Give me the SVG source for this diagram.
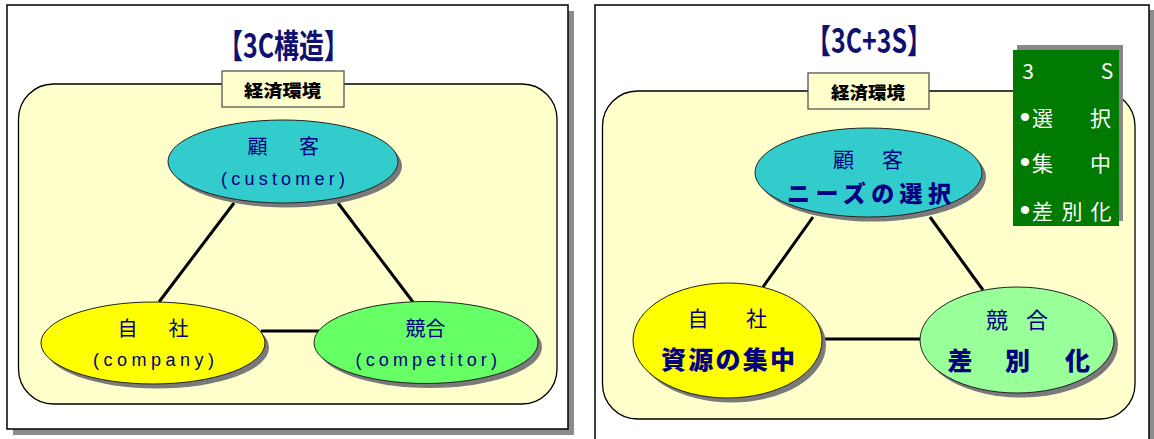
<svg xmlns="http://www.w3.org/2000/svg" width="1154" height="439" viewBox="0 0 1154 439">
<style>
.panel{fill:#ffffff;stroke:#000000;stroke-width:1.5}
.pshadow{fill:#8c8c8c}
.env{fill:#ffffcc;stroke:#000000;stroke-width:1.3}
.lbl{fill:#ffffcc;stroke:#555555;stroke-width:1.3}
.lbltxt{font-family:"Noto Sans CJK JP",sans-serif;font-weight:900;font-size:17px;fill:#000000}
.title{font-family:"Noto Sans CJK JP","Liberation Sans",sans-serif;font-weight:700;font-size:33px;fill:#101070}
.eshadow{fill:#7a7a7a}
.node{stroke:#222222;stroke-width:1}
.jp{font-family:"Noto Sans CJK JP",sans-serif;fill:#000080;text-anchor:middle}
.en{font-family:"Liberation Sans",sans-serif;font-size:18px;fill:#000080}
.bold{font-weight:900}
.conn line{stroke:#000000;stroke-width:3}
.s3{font-family:"Noto Sans CJK JP",sans-serif;font-size:21px;fill:#ffffff;text-anchor:middle}
.bul{font-family:"Liberation Sans",sans-serif;font-size:30px;fill:#ffffff;text-anchor:middle}
</style>

<!-- Left panel -->
<g id="left-panel">
  <rect class="pshadow" x="13" y="11" width="561" height="424"/>
  <rect class="panel" x="7" y="5" width="561" height="424"/>
  <text class="title" x="218" y="58" textLength="131" lengthAdjust="spacingAndGlyphs">【3C構造】</text>
  <rect class="env" x="18.5" y="84" width="538.5" height="320" rx="35" ry="35"/>
</g>
<g id="left-env-label">
  <rect class="lbl" x="222" y="71" width="122" height="36"/>
  <text class="lbltxt" x="244" y="97" textLength="77" lengthAdjust="spacingAndGlyphs">経済環境</text>
</g>

<g id="left-connectors" class="conn">
  <line x1="234" y1="203" x2="159" y2="302"/>
  <line x1="338" y1="203" x2="413" y2="302"/>
  <line x1="261" y1="331" x2="320" y2="331"/>
</g>

<g id="left-customer">
  <ellipse class="eshadow" cx="287" cy="166" rx="115" ry="41.5"/>
  <ellipse class="node" cx="283" cy="161.5" rx="115" ry="41.5" fill="#33cccc"/>
  <text class="jp" x="257.5" y="153.5" font-size="20">顧</text>
  <text class="jp" x="309" y="153.5" font-size="20">客</text>
  <text class="en" x="221" y="184.5" textLength="124" lengthAdjust="spacing">(customer)</text>
</g>

<g id="left-company">
  <ellipse class="eshadow" cx="157" cy="347.5" rx="112" ry="41"/>
  <ellipse class="node" cx="153" cy="343" rx="112" ry="41" fill="#ffff00"/>
  <text class="jp" x="127.5" y="336" font-size="20">自</text>
  <text class="jp" x="178.5" y="336" font-size="20">社</text>
  <text class="en" x="93" y="366" textLength="121" lengthAdjust="spacing">(company)</text>
</g>

<g id="left-competitor">
  <ellipse class="eshadow" cx="430" cy="347" rx="112" ry="41"/>
  <ellipse class="node" cx="426" cy="342.5" rx="112" ry="41" fill="#66ff66"/>
  <text class="jp" x="425.5" y="336" font-size="20">競合</text>
  <text class="en" x="355.5" y="366" textLength="141.5" lengthAdjust="spacing">(competitor)</text>
</g>

<!-- Right panel -->
<g id="right-panel">
  <rect class="pshadow" x="600" y="10" width="554" height="450"/>
  <rect class="panel" x="595" y="5" width="554" height="450"/>
  <text class="title" x="806" y="53" textLength="126" lengthAdjust="spacingAndGlyphs">【3C+3S】</text>
  <rect class="env" x="602.5" y="91" width="532.5" height="328" rx="35" ry="35"/>
</g>
<g id="right-env-label">
  <rect class="lbl" x="808" y="73" width="121" height="36"/>
  <text class="lbltxt" x="831" y="99" textLength="74" lengthAdjust="spacingAndGlyphs">経済環境</text>
</g>

<g id="right-connectors" class="conn">
  <line x1="813" y1="217" x2="763" y2="287"/>
  <line x1="930" y1="217" x2="983" y2="290"/>
  <line x1="825" y1="339" x2="921" y2="339"/>
</g>

<g id="right-customer">
  <ellipse class="eshadow" cx="872.5" cy="177" rx="113.5" ry="44.5"/>
  <ellipse class="node" cx="868.5" cy="172.5" rx="113.5" ry="44.5" fill="#33cccc"/>
  <text class="jp" x="843.5" y="166.5" font-size="21">顧</text>
  <text class="jp" x="892.5" y="166.5" font-size="21">客</text>
  <text class="jp bold" x="869" y="202" font-size="23" textLength="164" lengthAdjust="spacing">ニーズの選択</text>
</g>

<g id="right-company">
  <ellipse class="eshadow" cx="731.5" cy="345" rx="94.5" ry="57.5"/>
  <ellipse class="node" cx="727.5" cy="340.5" rx="94.5" ry="57.5" fill="#ffff00"/>
  <text class="jp" x="698" y="325.5" font-size="21">自</text>
  <text class="jp" x="756.5" y="325.5" font-size="21">社</text>
  <text class="jp bold" x="728" y="369" font-size="25" textLength="134" lengthAdjust="spacing">資源の集中</text>
</g>

<g id="right-competitor">
  <ellipse class="eshadow" cx="1021" cy="344.5" rx="97" ry="53"/>
  <ellipse class="node" cx="1017" cy="340" rx="97" ry="53" fill="#99ff99"/>
  <text class="jp" x="997" y="328" font-size="22">競</text>
  <text class="jp" x="1037" y="328" font-size="22">合</text>
  <text class="jp bold" x="960" y="370" font-size="25">差</text>
  <text class="jp bold" x="1017.5" y="370" font-size="25">別</text>
  <text class="jp bold" x="1077.5" y="370" font-size="25">化</text>
</g>

<g id="three-s-box">
  <rect x="1017" y="45" width="106" height="176" fill="#888888"/>
  <rect x="1013" y="50" width="106" height="176" fill="#007a00"/>
  <text class="s3" x="1028" y="79">3</text>
  <text class="s3" x="1107" y="79">S</text>
  <text class="bul" x="1025" y="127">•</text>
  <text class="s3" x="1042.5" y="126">選</text>
  <text class="s3" x="1100.5" y="126">択</text>
  <text class="bul" x="1025" y="172">•</text>
  <text class="s3" x="1042.5" y="171">集</text>
  <text class="s3" x="1100.5" y="171">中</text>
  <text class="bul" x="1025" y="220">•</text>
  <text class="s3" x="1042.5" y="219">差</text>
  <text class="s3" x="1072" y="219">別</text>
  <text class="s3" x="1101" y="219">化</text>
</g>
</svg>
